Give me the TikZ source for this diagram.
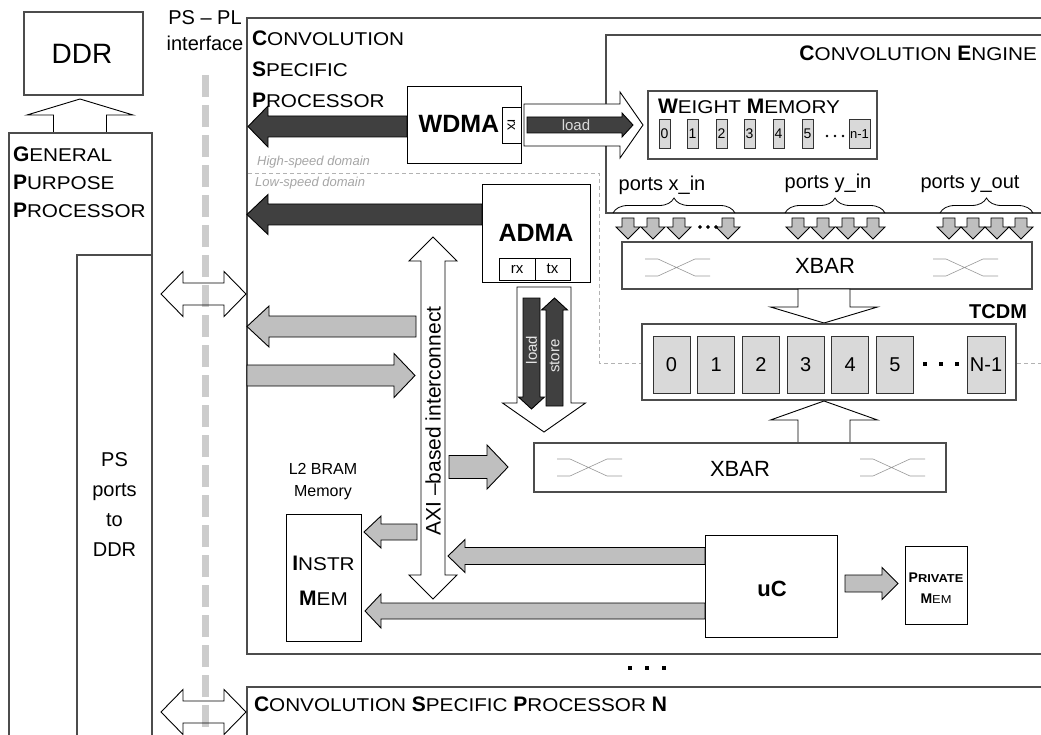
\documentclass[tikz,border=0pt]{standalone}
\usepackage{fontspec}
\setmainfont{Liberation Sans}
\newfontfamily\scfont[FakeStretch=1.12]{Liberation Sans}
\usetikzlibrary{decorations.pathreplacing}

% bold initial followed by wide small capitals
\newcommand\capword[2]{{\normalfont\bfseries\fontsize{21}{25}\selectfont#1}{\scfont\fontsize{18.5}{22}\selectfont#2}}
\newcommand\capwordx[4]{{\normalfont\bfseries\fontsize{#1}{#1}\selectfont#3}{\scfont\fontsize{#2}{#2}\selectfont#4}}
\newcommand\fs[1]{\fontsize{#1}{#1}\selectfont}

% horizontal block arrow: style, tail x, tip x, y, shaft half, head half, head length
\newcommand\harr[7]{%
  \pgfmathsetmacro\harrbase{#3-(#3-#2)/abs(#3-#2)*#7}%
  \draw[#1] (#2,#4-#5) -- (\harrbase,#4-#5) -- (\harrbase,#4-#6) -- (#3,#4)
     -- (\harrbase,#4+#6) -- (\harrbase,#4+#5) -- (#2,#4+#5) -- cycle;}
% vertical block arrow: style, x, tail y, tip y, shaft half, head half, head length
\newcommand\varr[7]{%
  \pgfmathsetmacro\varrbase{#4-(#4-#3)/abs(#4-#3)*#7}%
  \draw[#1] (#2-#5,#3) -- (#2-#5,\varrbase) -- (#2-#6,\varrbase) -- (#2,#4)
     -- (#2+#6,\varrbase) -- (#2+#5,\varrbase) -- (#2+#5,#3) -- cycle;}
% double-headed horizontal block arrow: style, left tip, right tip, y, shaft half, head half, head length
\newcommand\hdarr[7]{%
  \draw[#1] (#2,#4) -- (#2+#7,#4-#6) -- (#2+#7,#4-#5) -- (#3-#7,#4-#5) -- (#3-#7,#4-#6)
     -- (#3,#4) -- (#3-#7,#4+#6) -- (#3-#7,#4+#5) -- (#2+#7,#4+#5) -- (#2+#7,#4+#6) -- cycle;}
% double-headed vertical block arrow: style, x, top tip, bottom tip, shaft half, head half, head length
\newcommand\vdarr[7]{%
  \draw[#1] (#2,#3) -- (#2+#6,#3+#7) -- (#2+#5,#3+#7) -- (#2+#5,#4-#7) -- (#2+#6,#4-#7)
     -- (#2,#4) -- (#2-#6,#4-#7) -- (#2-#5,#4-#7) -- (#2-#5,#3+#7) -- (#2-#6,#3+#7) -- cycle;}
% named rectangle from corner to corner
\newcommand\boxat[6]{%
  \node[#1, anchor=north west, minimum width={(#5-#3)*1pt}, minimum height={(#6-#4)*1pt}] (#2) at (#3,#4) {};}
% crossbar symbol
\newcommand\xcross[3]{%
  \draw[xbarline] (#1,#2) -- (#1+13,#2) -- (#1+50,#3) -- (#1+65,#3)
                  (#1,#3) -- (#1+13,#3) -- (#1+50,#2) -- (#1+65,#2);}

\begin{document}
\begin{tikzpicture}[x=1pt,y=-1pt,
  outerbox/.style={draw=black!70, line width=1.3pt, fill=white, outer sep=0pt, inner sep=0pt},
  blk/.style={draw=black, line width=0.9pt, fill=white, outer sep=0pt, inner sep=0pt},
  cellbox/.style={draw=black!80, line width=0.7pt, fill=black!15, outer sep=0pt, inner sep=0pt},
  tx/.style={inner sep=0pt, outer sep=0pt, font=\fs{20}},
  arrdark/.style={draw=black, line width=0.9pt, fill=black!75},
  arrgray/.style={draw=black, line width=0.9pt, fill=black!25},
  arrwhite/.style={draw=black, line width=0.9pt, fill=white},
  arrline/.style={draw=black, line width=0.9pt},
  xbarline/.style={draw=black!40, line width=0.6pt},
  domline/.style={draw=black!30, line width=0.8pt, dash pattern=on 4pt off 3pt},
  domtext/.style={inner sep=0pt, font=\fs{13}\itshape, text=black!35},
  brc/.style={draw=black, line width=0.8pt, decorate, decoration={brace, amplitude=15pt}},
]
\useasboundingbox (0,0) rectangle (1041,735);
\clip (0,0) rectangle (1041,735);

% ---------------- processing system side ----------------
\boxat{outerbox}{ddr}{24}{12}{143}{95}
\node[tx, font=\fs{28}, anchor=base] (ddrlbl) at (82,64) {DDR};
\varr{arrwhite}{80}{133}{99}{26.5}{53}{16}
\boxat{outerbox}{gpp}{9}{133}{152}{760}
\node[tx, anchor=base west] (gpp1) at (13,161.5) {\capword{G}{ENERAL}};
\node[tx, anchor=base west] (gpp2) at (13,189.5) {\capword{P}{URPOSE}};
\node[tx, anchor=base west] (gpp3) at (13,217.5) {\capword{P}{ROCESSOR}};
\boxat{outerbox}{psports}{77}{255}{152}{760}
\node[tx, anchor=base] (ps1) at (114.5,466) {PS};
\node[tx, anchor=base] (ps2) at (114.5,496) {ports};
\node[tx, anchor=base] (ps3) at (114.5,526) {to};
\node[tx, anchor=base] (ps4) at (114.5,556) {DDR};

% ---------------- programmable logic frames ----------------
\boxat{outerbox}{csp}{247}{18}{1060}{654}
\boxat{outerbox}{cspn}{247}{687}{1060}{760}
\node[tx, font=\scfont\fs{18.5}, anchor=base west] (cspntitle) at (254,711)
  {\capword{C}{ONVOLUTION} \capword{S}{PECIFIC} \capword{P}{ROCESSOR} {\normalfont\bfseries\fs{21}N}};
\foreach \dx in {630,647,664} \fill (\dx-2,666) rectangle (\dx+2,670);

% PS - PL interface
\node[tx, anchor=base] (pspl1) at (205,25) {PS -- PL};
\node[tx, anchor=base] (pspl2) at (205,51) {interface};
\draw[line width=7pt, black!20, dash pattern=on 22pt off 8pt] (205,75) -- (205,745);
\hdarr{arrline}{161}{246}{294}{11}{22.5}{22}
\hdarr{arrline}{161}{246}{712}{11}{22.5}{22}

% ---------------- convolution specific processor ----------------
\node[tx, anchor=base west] (csp1) at (252,45.5) {\capword{C}{ONVOLUTION}};
\node[tx, anchor=base west] (csp2) at (252,76.5) {\capword{S}{PECIFIC}};
\node[tx, anchor=base west] (csp3) at (252,107.5) {\capword{P}{ROCESSOR}};

% speed domains
\node[domtext, anchor=base west] (hsd) at (257,166) {High-speed domain};
\node[domtext, anchor=base west] (lsd) at (255,187) {Low-speed domain};
\draw[domline] (248,173) -- (599,173) -- (599,363) -- (1045,363);

% convolution engine
\boxat{outerbox}{ce}{606}{35}{1060}{213}
\node[tx, font=\scfont\fs{18.5}, anchor=base east] (cetitle) at (1037,60.5) {\capword{C}{ONVOLUTION} \capword{E}{NGINE}};

% weight DMA
\boxat{blk}{wdma}{407}{86}{521}{163}
\boxat{blk}{wdmarx}{502}{107}{521}{143}
\node[tx, font=\fs{25}\bfseries, anchor=base] (wdmalbl) at (459,133) {WDMA};
\node[tx, font=\fs{14}, rotate=-90] (wdmarxlbl) at (511.5,125) {rx};
\harr{arrdark}{407}{248}{126.5}{10.5}{20.5}{20}
\harr{arrwhite}{524}{643}{125}{21}{33}{23}
\harr{arrdark}{527}{633}{125}{8}{12}{11}
\node[tx, font=\fs{15}, text=black!15] (wload) at (576,125) {load};

% weight memory
\boxat{outerbox}{wmem}{648}{91}{877}{159}
\node[tx, font=\scfont\fs{18.5}, anchor=base west] (wmemlbl) at (658,113.5) {\capword{W}{EIGHT} \capword{M}{EMORY}};
\foreach \i/\cx in {0/659,1/687,2/716,3/744,4/773,5/802} {
  \boxat{cellbox}{wc\i}{\cx}{119}{\cx+11}{148}
  \node[tx, font=\fs{14}] at (\cx+5.5,134) {\i};
}
\boxat{cellbox}{wcn}{849}{119}{870}{148}
\node[tx, font=\fs{13}] (wcnlbl) at (859.5,134) {n-1};
\foreach \dx in {827,835,843} \fill (\dx,136) circle (1.3);

% ports into the crossbar
\draw[brc] (613,213) -- (735,213);
\draw[brc] (785,213) -- (885,213);
\draw[brc] (940,213) -- (1033,213);
\node[tx, anchor=base] (pxin) at (662,191) {ports x\_in};
\node[tx, anchor=base] (pyin) at (828,189) {ports y\_in};
\node[tx, anchor=base] (pyout) at (970,189) {ports y\_out};
\foreach \px in {628,653,679,728,798,823,848,873,949,973,997,1021}
  \varr{arrgray}{\px}{218}{239}{6}{12}{12}
\foreach \dx in {700,708,716} \fill (\dx,227) circle (1.3);

% upper crossbar
\boxat{outerbox}{xbar1}{622}{242}{1032}{289}
\xcross{645}{259}{276}
\xcross{933}{259}{276}
\node[tx, font=\fs{22}, anchor=base] (xbar1lbl) at (825,274) {XBAR};
\varr{arrwhite}{824}{289}{323}{26}{53.5}{16}

% TCDM
\boxat{outerbox}{tcdm}{642}{324}{1016}{400}
\node[tx, font=\fs{20}\bfseries, anchor=base east] (tcdmlbl) at (1027,318) {TCDM};
\foreach \i in {0,...,5} {
  \pgfmathsetmacro\cx{653+44.7*\i}
  \boxat{cellbox}{tc\i}{\cx}{336}{\cx+37}{393}
  \node[tx, font=\fs{20}] at (\cx+18.5,364.5) {\i};
}
\boxat{cellbox}{tcn}{967}{336}{1005}{393}
\node[tx, font=\fs{20}] (tcnlbl) at (986,364.5) {N-1};
\foreach \dx in {925,941,957} \fill (\dx-2.2,362) rectangle (\dx+2.2,366.4);
\varr{arrwhite}{824}{443}{401}{26}{53.5}{19}

% lower crossbar
\boxat{outerbox}{xbar2}{534}{443}{946}{492}
\xcross{557}{459}{476}
\xcross{860}{459}{476}
\node[tx, font=\fs{22}, anchor=base] (xbar2lbl) at (740,476) {XBAR};

% AXI DMA
\boxat{blk}{adma}{482}{184}{590}{282}
\boxat{blk}{admarx}{499}{258}{535}{280}
\boxat{blk}{admatx}{535}{258}{570}{280}
\node[tx, font=\fs{25}\bfseries, anchor=base] (admalbl) at (536,242) {ADMA};
\node[tx, font=\fs{15}, anchor=base] (rxlbl) at (517,274) {rx};
\node[tx, font=\fs{15}, anchor=base] (txlbl) at (552.5,274) {tx};
\harr{arrdark}{482}{247}{214.5}{10.5}{20}{21}
\varr{arrwhite}{544}{287}{432}{27}{41.5}{29}
\varr{arrdark}{531.5}{298}{409}{8.5}{13}{12}
\varr{arrdark}{554.5}{406}{298}{8.5}{13}{12}
\node[tx, font=\fs{15}, text=black!10, rotate=90] (aload) at (531.5,350) {load};
\node[tx, font=\fs{15}, text=black!10, rotate=90] (astore) at (554.5,356) {store};

% AXI interconnect
\vdarr{arrwhite}{433}{237}{599}{12}{24}{24}
\node[tx, font=\fs{21}, rotate=90] (axilbl) at (433,421) {AXI --based interconnect};
\harr{arrgray}{416}{247}{326.5}{10.5}{20.5}{22}
\harr{arrgray}{247}{415}{375.5}{10.5}{22}{21}
\harr{arrgray}{449}{508}{467}{11.5}{22}{21}

% instruction memory
\node[tx, font=\fs{16}, anchor=base] (l2a) at (323,474) {L2 BRAM};
\node[tx, font=\fs{16}, anchor=base] (l2b) at (323,496) {Memory};
\boxat{blk}{instr}{286}{514}{361}{641}
\node[tx, anchor=base] (instr1) at (323.5,570.5) {\capword{I}{NSTR}};
\node[tx, anchor=base] (instr2) at (323.5,605.5) {\capword{M}{EM}};
\harr{arrgray}{417}{364}{532}{8}{16}{17}

% micro-controller
\boxat{blk}{uc}{705}{535}{837}{637}
\node[tx, font=\fs{22}\bfseries, anchor=base] (uclbl) at (772,596) {uC};
\harr{arrgray}{705}{448}{556}{8.5}{16.5}{17}
\harr{arrgray}{705}{365}{611}{8}{17}{16}
\boxat{blk}{pmem}{905}{546}{967}{624}
\node[tx, anchor=base] (pm1) at (936,582) {\capwordx{14}{11.5}{P}{\bfseries RIVATE}};
\node[tx, anchor=base] (pm2) at (936,603.5) {\capwordx{14}{11.5}{M}{EM}};
\harr{arrgray}{845}{898}{583.5}{8.5}{16}{16}
\end{tikzpicture}
\end{document}
